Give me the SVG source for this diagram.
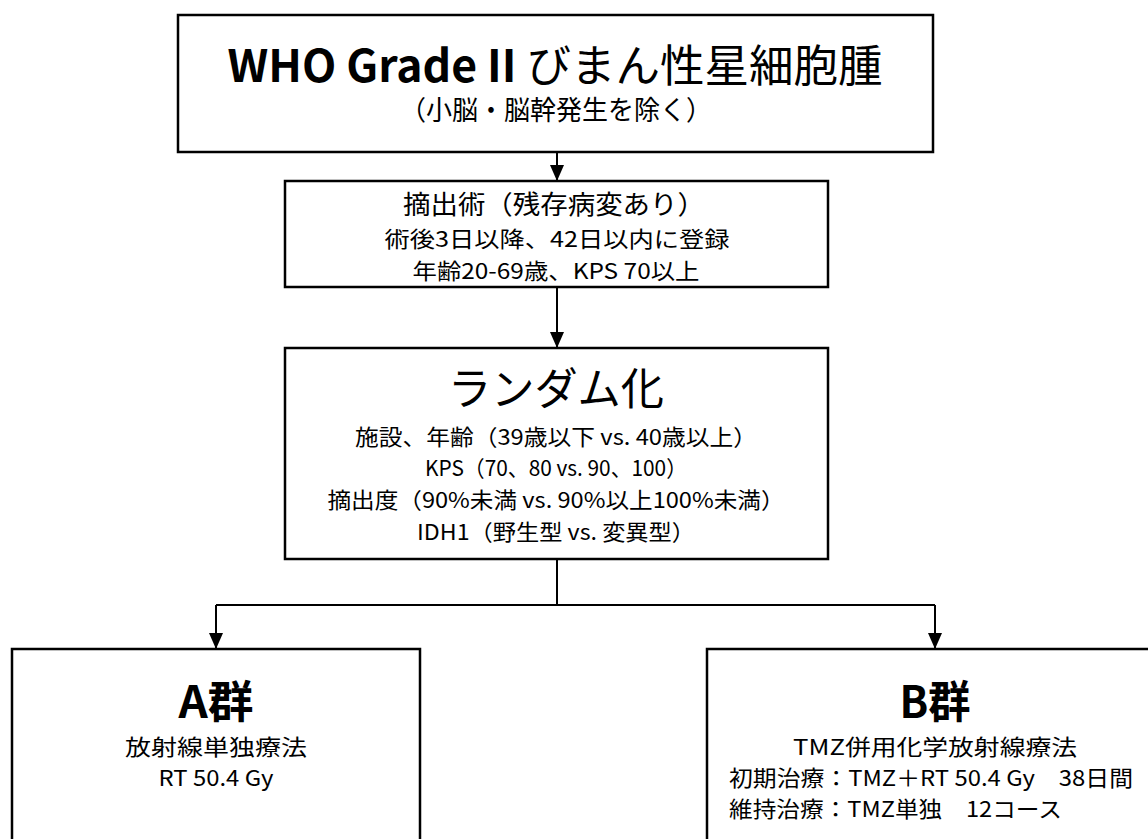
<svg xmlns="http://www.w3.org/2000/svg" width="1148" height="839" viewBox="0 0 1148 839">
<defs>
<marker id="arr" markerWidth="16" markerHeight="14" refX="16" refY="7" orient="auto" markerUnits="userSpaceOnUse" viewBox="0 0 16 14">
<path d="M0,0 L16,7 L0,14 Z" fill="#000"/>
</marker>
</defs>
<style>
.box{fill:#fff;stroke:#000;stroke-width:2.5}
.ln{fill:none;stroke:#000;stroke-width:2}
text{font-family:"Noto Sans CJK JP","Noto Sans",sans-serif;fill:#000;text-anchor:middle}
.t1{font-size:44px}
.b{font-weight:bold}
.s27{font-size:27px}
.s26{font-size:26px}
.s23{font-size:23px}
.s22{font-size:22px}
.t3{font-size:44px}
.tg{font-size:44px;font-weight:bold}
.l{text-anchor:start}
</style>
<rect width="1148" height="839" fill="#fff"/>
<g id="connectors">
<line class="ln" x1="557" y1="152" x2="557" y2="181"  marker-end="url(#arr)"/>
<line class="ln" x1="557" y1="287" x2="557" y2="348" marker-end="url(#arr)"/>
<polyline class="ln" points="557,559 557,605"/>
<polyline class="ln" points="216,605 935,605"/>
<line class="ln" x1="216" y1="605" x2="216" y2="649" marker-end="url(#arr)"/>
<line class="ln" x1="935" y1="605" x2="935" y2="649" marker-end="url(#arr)"/>
</g>
<g id="n1">
<rect class="box" x="178" y="15" width="755" height="137"/>
<text class="t1" x="555" y="82" textLength="655" lengthAdjust="spacingAndGlyphs"><tspan class="b">WHO Grade II</tspan> びまん性星細胞腫</text>
<text class="s27" x="556" y="120" textLength="312" lengthAdjust="spacingAndGlyphs">（小脳・脳幹発生を除く）</text>
</g>
<g id="n2">
<rect class="box" x="285" y="181" width="543" height="106"/>
<text class="s26" x="554" y="214" textLength="302" lengthAdjust="spacingAndGlyphs">摘出術（残存病変あり）</text>
<text class="s22" x="557" y="247" textLength="345" lengthAdjust="spacingAndGlyphs">術後3日以降、42日以内に登録</text>
<text class="s22" x="556" y="279" textLength="287" lengthAdjust="spacingAndGlyphs">年齢20-69歳、KPS 70以上</text>
</g>
<g id="n3">
<rect class="box" x="285" y="348" width="543" height="211"/>
<text class="t3" x="556" y="405" textLength="216" lengthAdjust="spacingAndGlyphs">ランダム化</text>
<text class="s22" x="556" y="445" textLength="402" lengthAdjust="spacingAndGlyphs">施設、年齢（39歳以下 vs. 40歳以上）</text>
<text class="s22" x="556" y="476" textLength="262" lengthAdjust="spacingAndGlyphs">KPS（70、80 vs. 90、100）</text>
<text class="s22" x="556" y="508" textLength="457" lengthAdjust="spacingAndGlyphs">摘出度（90%未満 vs. 90%以上100%未満）</text>
<text class="s22" x="556" y="540" textLength="278" lengthAdjust="spacingAndGlyphs">IDH1（野生型 vs. 変異型）</text>
</g>
<g id="nA">
<rect class="box" x="12" y="649" width="408" height="200"/>
<text class="tg" x="216" y="718" textLength="75" lengthAdjust="spacingAndGlyphs">A群</text>
<text class="s22" x="216" y="755" textLength="182" lengthAdjust="spacingAndGlyphs">放射線単独療法</text>
<text class="s22" x="216" y="786" textLength="115" lengthAdjust="spacingAndGlyphs">RT 50.4 Gy</text>
</g>
<g id="nB">
<rect class="box" x="707" y="649" width="450" height="200"/>
<text class="tg" x="935" y="718" textLength="71" lengthAdjust="spacingAndGlyphs">B群</text>
<text class="s22" x="935" y="755" textLength="284" lengthAdjust="spacingAndGlyphs">TMZ併用化学放射線療法</text>
<text class="s22 l" x="729" y="786" textLength="404" lengthAdjust="spacingAndGlyphs">初期治療：TMZ＋RT 50.4 Gy　38日間</text>
<text class="s22 l" x="729" y="817" textLength="333" lengthAdjust="spacingAndGlyphs">維持治療：TMZ単独　12コース</text>
</g>
</svg>
